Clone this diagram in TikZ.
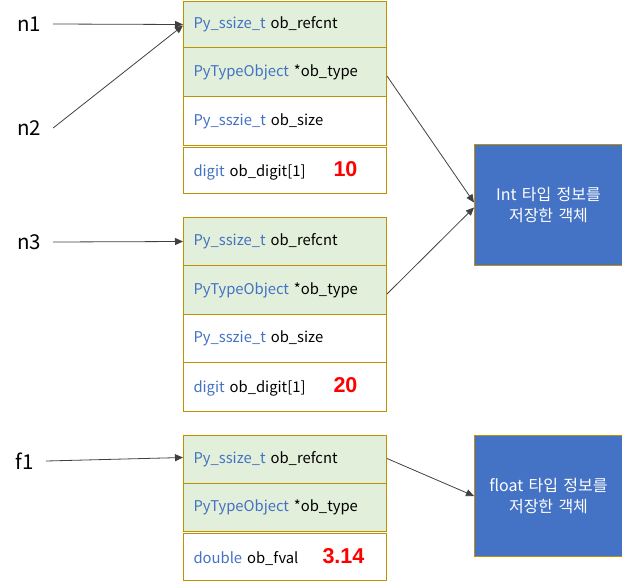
\documentclass[tikz,border=0pt]{standalone}
\usepackage{fontspec}
\setmainfont{Noto Sans CJK KR}
\newfontfamily\numfont{Liberation Sans}
\usetikzlibrary{arrows.meta}
\definecolor{gold}{HTML}{BF9000}
\definecolor{lgreen}{HTML}{E2EFDA}
\definecolor{tblue}{HTML}{4472C4}
\definecolor{numred}{HTML}{FF0000}
\definecolor{lnk}{HTML}{404040}
\tikzset{
  rowbox/.style={draw=gold, line width=1pt, rectangle, anchor=north west,
    minimum width=203pt, text width=183pt, inner xsep=10pt, inner ysep=0pt,
    align=left, font=\fontsize{14.8}{17}\selectfont},
  greenrow/.style={rowbox, fill=lgreen},
  whiterow/.style={rowbox, fill=white},
  typebox/.style={draw=gold, line width=1pt, fill=tblue, anchor=north west,
    minimum width=148pt, text width=140pt, align=center, inner sep=0pt,
    text=white, font=\fontsize{16}{21}\selectfont},
  varlabel/.style={inner xsep=12pt, inner ysep=2pt, font=\fontsize{20.5}{22}\selectfont},
  link/.style={draw=lnk, line width=0.8pt, -{Triangle[length=8pt,width=7pt]}},
}
\newcommand{\ty}[1]{\textcolor{tblue}{#1}}
\newcommand{\num}[1]{\textcolor{numred}{\numfont\bfseries\fontsize{21.5}{22}\selectfont #1}}
\begin{document}
\begin{tikzpicture}[x=1pt,y=-1pt]
\useasboundingbox (0,0) rectangle (622,584);
% box 1
\node[greenrow, minimum height=47pt] (r11) at (183,0.5) {\ty{Py\_ssize\_t} ob\_refcnt};
\node[greenrow, minimum height=49pt] (r12) at (183,47) {\ty{PyTypeObject} *ob\_type};
\node[whiterow, minimum height=49pt] (r13) at (183,96) {\ty{Py\_sszie\_t} ob\_size};
\node[whiterow, minimum height=46pt] (r14) at (183,147) {\makebox[140pt][l]{\ty{digit} ob\_digit[1]}\num{10}};
% box 2
\node[greenrow, minimum height=48pt] (r21) at (183,217) {\ty{Py\_ssize\_t} ob\_refcnt};
\node[greenrow, minimum height=49pt] (r22) at (183,265) {\ty{PyTypeObject} *ob\_type};
\node[whiterow, minimum height=48pt] (r23) at (183,314) {\ty{Py\_sszie\_t} ob\_size};
\node[whiterow, minimum height=49pt] (r24) at (183,362) {\makebox[140pt][l]{\ty{digit} ob\_digit[1]}\num{20}};
% box 3
\node[greenrow, minimum height=48pt] (r31) at (183,435) {\ty{Py\_ssize\_t} ob\_refcnt};
\node[greenrow, minimum height=48pt] (r32) at (183,483) {\ty{PyTypeObject} *ob\_type};
\node[whiterow, minimum height=47pt] (r33) at (183,533) {\makebox[129pt][l]{\ty{double} ob\_fval}\num{3.14}};
% type boxes
\node[typebox, minimum height=121pt] (int) at (474,144) {Int 타입 정보를\\저장한 객체};
\node[typebox, minimum height=121pt] (flt) at (474,435) {float 타입 정보를\\저장한 객체};
% variables
\node[varlabel] (n1) at (29,24) {n1};
\node[varlabel] (n2) at (29,128) {n2};
\node[varlabel] (n3) at (29,242) {n3};
\node[varlabel] (f1) at (25,461) {f1};
% links
\draw[link] (n1.east) -- (r11.west);
\draw[link] (n2.east) -- ([yshift=-1pt]r11.west);
\draw[link] (n3.east) -- (r21.west);
\draw[link] (f1.east) -- ([yshift=2pt]r31.west);
\draw[link] ([yshift=-4pt]r12.east) -- ([yshift=2.5pt]int.west);
\draw[link] ([yshift=-4pt]r22.east) -- ([yshift=-2.5pt]int.west);
\draw[link] ([yshift=1pt]r31.east) -- (flt.west);
\end{tikzpicture}
\end{document}
